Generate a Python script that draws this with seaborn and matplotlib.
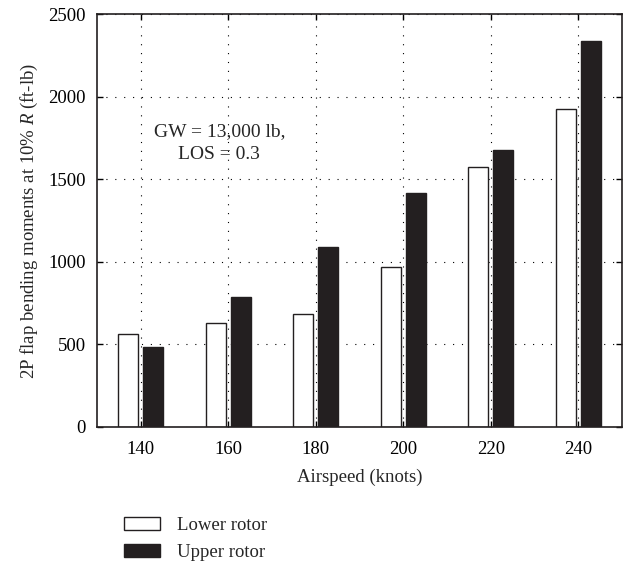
import matplotlib
matplotlib.use("Agg")
import matplotlib.pyplot as plt
import seaborn as sns
import pandas as pd

airspeed = [140, 160, 180, 200, 220, 240]
lower_rotor = [561, 630, 684, 970, 1574, 1926]
upper_rotor = [487, 785, 1089, 1419, 1677, 2335]
series_names = ["Lower rotor", "Upper rotor"]
y_ticks = [0, 500, 1000, 1500, 2000, 2500]

df = pd.DataFrame({
    "Airspeed": airspeed * 2,
    "Moment": lower_rotor + upper_rotor,
    "Rotor": [series_names[0]] * len(airspeed) + [series_names[1]] * len(airspeed),
})

sns.set_style("ticks")
plt.rcParams["font.family"] = ["Liberation Serif", "DejaVu Serif"]
plt.rcParams["mathtext.fontset"] = "custom"
plt.rcParams["mathtext.it"] = "Liberation Serif:italic"
plt.rcParams["mathtext.rm"] = "Liberation Serif"

fig = plt.figure(figsize=(6.29, 5.67), dpi=100)
ax = fig.add_axes([0.154, 0.247, 0.835, 0.728])

dark = "#231f20"
sns.barplot(data=df, x="Airspeed", y="Moment", hue="Rotor", native_scale=True,
            palette={series_names[0]: "white", series_names[1]: dark},
            saturation=1, width=0.57, gap=0.2, edgecolor=dark, linewidth=1.0,
            ax=ax, errorbar=None)

ax.set_xlim(130, 250)
ax.set_ylim(0, 2500)
ax.set_xticks(airspeed)
ax.set_xticklabels([str(a) for a in airspeed])
ax.set_yticks(y_ticks)
ax.set_yticklabels([str(t) for t in y_ticks])
ax.set_axisbelow(True)
ax.grid(True, linestyle=(0, (1, 7)), color="black", linewidth=0.8)
ax.tick_params(direction="in", top=True, right=True, labelsize=13.5, length=4,
               width=1, colors="black")
ax.tick_params(axis="x", pad=10)
ax.tick_params(axis="y", pad=8)
for sp in ax.spines.values():
    sp.set_visible(True)
    sp.set_linewidth(1.2)
    sp.set_color("#231f20")

ax.set_xlabel("Airspeed (knots)", fontsize=13.5, labelpad=8)
ax.set_ylabel("2P flap bending moments at 10% $\\it{R}$ (ft-lb)", fontsize=13.5, labelpad=6)

ax.text(158, 1720, "GW = 13,000 lb,\nLOS = 0.3", ha="center", va="center",
        fontsize=14, linespacing=1.45)

handles, labels = ax.get_legend_handles_labels()
if ax.get_legend() is not None:
    ax.get_legend().remove()
fig.legend(handles, labels, loc="upper left", bbox_to_anchor=(0.186, 0.102),
           frameon=False, fontsize=13.5, handlelength=1.9, handleheight=0.7,
           labelspacing=0.55, borderaxespad=0, handletextpad=0.9)

fig.savefig("out.png", dpi=100)
